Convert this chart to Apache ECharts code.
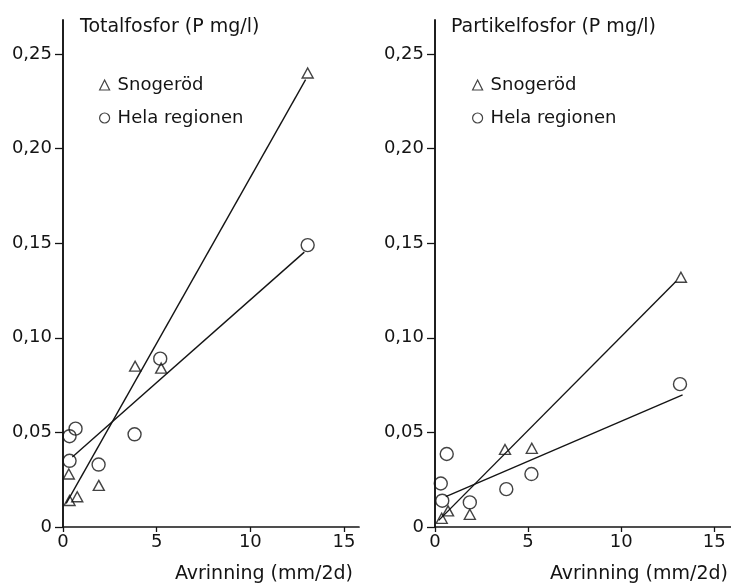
<!DOCTYPE html>
<html>
<head>
<meta charset="utf-8">
<script src="https://cdn.jsdelivr.net/npm/echarts@6/dist/echarts.min.js"></script>
<style>
  html, body { margin: 0; padding: 0; background: #fff; }
  #chart { width: 731px; height: 584px; }
</style>
</head>
<body>
<div id="chart"></div>
<script>
// Axis ticks
const xTicks = [0, 5, 10, 15];
const yTicks = [0, 0.05, 0.10, 0.15, 0.20, 0.25];

// Totalfosfor: avrinning (mm/2d) and concentration (P mg/l)
const totSnogX = [13.06, 3.85, 5.24, 0.31, 0.35, 0.76, 1.91];
const totSnogY = [0.240, 0.085, 0.084, 0.028, 0.014, 0.016, 0.022];
const totHelaX = [13.06, 5.19, 3.82, 0.35, 0.67, 0.35, 1.90];
const totHelaY = [0.149, 0.089, 0.049, 0.048, 0.052, 0.035, 0.033];
// Fitted lines (end points)
const totSnogFitX = [0.17, 12.95];
const totSnogFitY = [0.0125, 0.2365];
const totHelaFitX = [0.50, 12.88];
const totHelaFitY = [0.037, 0.1453];

// Partikelfosfor
const partSnogX = [13.21, 3.76, 5.20, 0.36, 0.70, 1.87];
const partSnogY = [0.132, 0.041, 0.0416, 0.0046, 0.0085, 0.0067];
const partHelaX = [13.16, 5.18, 3.83, 0.31, 0.63, 0.39, 1.87];
const partHelaY = [0.0755, 0.028, 0.020, 0.023, 0.0386, 0.0139, 0.013];
const partSnogFitX = [0.20, 12.94];
const partSnogFitY = [0.0035, 0.1298];
const partHelaFitX = [0.58, 13.30];
const partHelaFitY = [0.016, 0.0698];

const panelTitles = ['Totalfosfor (P mg/l)', 'Partikelfosfor (P mg/l)'];
const xName = 'Avrinning (mm/2d)';
const seriesNames = ['Snogeröd', 'Hela regionen'];

const ink = '#141414';
const font = "'DejaVu Sans', sans-serif";

const zip = (xs, ys) => xs.map((x, i) => [x, ys[i]]);

function xAxisFor(idx, max) {
  return {
    type: 'value', gridIndex: idx, min: 0, max: max,
    axisLine: { show: true, onZero: false, lineStyle: { color: ink, width: 1.7 } },
    axisTick: { show: true, length: 5, customValues: xTicks, lineStyle: { color: ink, width: 1.3 } },
    axisLabel: { customValues: xTicks, color: ink, fontFamily: font, fontSize: 18, margin: 6 },
    splitLine: { show: false }
  };
}
function yAxisFor(idx) {
  return {
    type: 'value', gridIndex: idx, min: 0, max: 0.268,
    axisLine: { show: true, onZero: false, lineStyle: { color: ink, width: 1.9 } },
    axisTick: { show: true, length: 8, customValues: yTicks, lineStyle: { color: ink, width: 1.3 } },
    axisLabel: {
      customValues: yTicks, color: ink, fontFamily: font, fontSize: 18, margin: 11,
      formatter: v => (v === 0 ? '0' : v.toFixed(2).replace('.', ','))
    },
    splitLine: { show: false }
  };
}

const hollow = { color: 'rgba(255,255,255,0)', borderColor: ink, borderWidth: 1.4 };

function scatter(name, idx, data, symbol, size) {
  return {
    type: 'scatter', name: name, xAxisIndex: idx, yAxisIndex: idx,
    data: data, symbol: symbol, symbolSize: size, itemStyle: hollow, z: 3
  };
}
function fit(idx, data) {
  return {
    type: 'line', name: 'fit' + idx, xAxisIndex: idx, yAxisIndex: idx,
    data: data, symbol: 'none', lineStyle: { color: ink, width: 1.4 }, z: 2
  };
}

function legendFor(left) {
  return {
    left: left, top: 70, orient: 'vertical',
    data: seriesNames, itemWidth: 10, itemHeight: 10, itemGap: 13,
    selectedMode: false,
    itemStyle: { color: 'rgba(255,255,255,0)', borderColor: ink, borderWidth: 1.2 },
    textStyle: { color: ink, fontFamily: font, fontSize: 18, lineHeight: 20, padding: [0, 0, 0, 3] }
  };
}

const titleStyle = { color: ink, fontFamily: font, fontSize: 19, fontWeight: 'normal' };

const chart = echarts.init(document.getElementById('chart'), null, { renderer: 'canvas' });
chart.setOption({
  animation: false,
  backgroundColor: '#fff',
  title: [
    { text: panelTitles[0], left: 80, top: 18, padding: 0, textStyle: titleStyle },
    { text: panelTitles[1], left: 451, top: 18, padding: 0, textStyle: titleStyle },
    { text: xName, right: 378, top: 565, padding: 0, textStyle: titleStyle },
    { text: xName, right: 3, top: 565, padding: 0, textStyle: titleStyle }
  ],
  legend: [legendFor(94), legendFor(467)],
  grid: [
    { left: 63, top: 20, width: 296, height: 507 },
    { left: 435, top: 20, width: 296, height: 507 }
  ],
  xAxis: [xAxisFor(0, 15.8), xAxisFor(1, 15.9)],
  yAxis: [yAxisFor(0), yAxisFor(1)],
  series: [
    fit(0, zip(totSnogFitX, totSnogFitY)),
    fit(0, zip(totHelaFitX, totHelaFitY)),
    scatter(seriesNames[0], 0, zip(totSnogX, totSnogY), 'triangle', [11, 10]),
    scatter(seriesNames[1], 0, zip(totHelaX, totHelaY), 'circle', 13),
    fit(1, zip(partSnogFitX, partSnogFitY)),
    fit(1, zip(partHelaFitX, partHelaFitY)),
    scatter(seriesNames[0], 1, zip(partSnogX, partSnogY), 'triangle', [11, 10]),
    scatter(seriesNames[1], 1, zip(partHelaX, partHelaY), 'circle', 13)
  ]
});
</script>
</body>
</html>
